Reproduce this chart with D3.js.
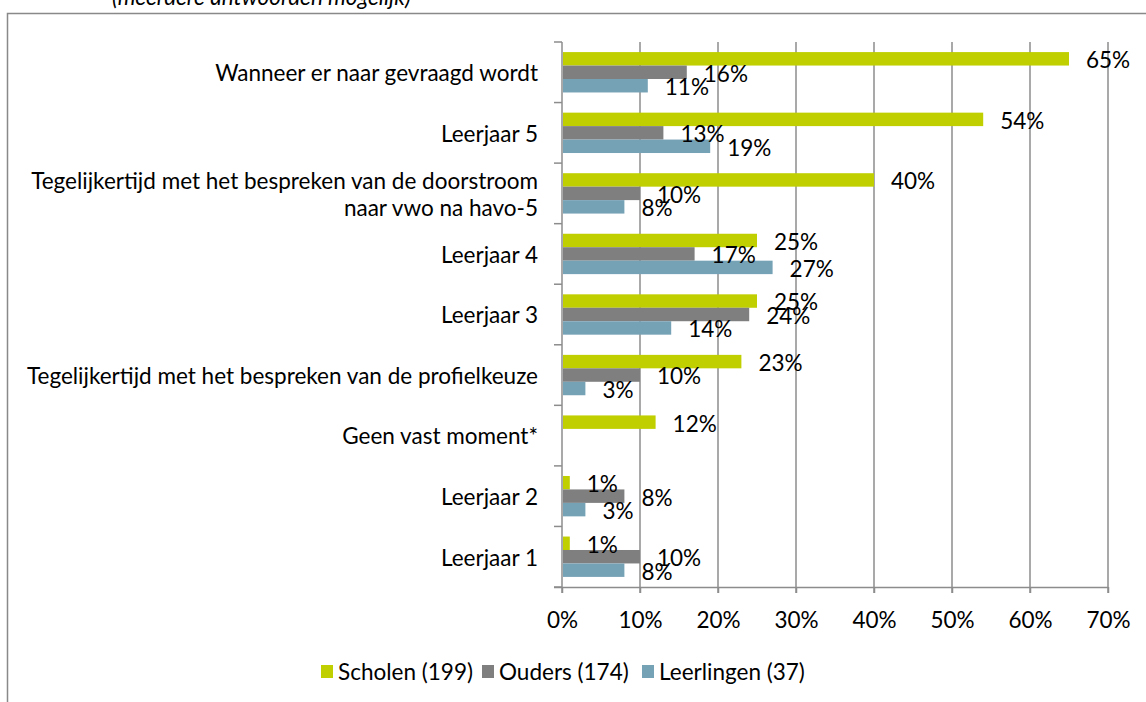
<!DOCTYPE html>
<html><head><meta charset="utf-8">
<script src="https://cdn.jsdelivr.net/npm/d3@7"></script>
<style>html,body{margin:0;padding:0;background:#fff;overflow:hidden}</style>
</head><body>
<svg id="chart" width="1146" height="702"></svg>
<script>
const categories = [
  ["Wanneer er naar gevraagd wordt"],
  ["Leerjaar 5"],
  ["Tegelijkertijd met het bespreken van de doorstroom", "naar vwo na havo-5"],
  ["Leerjaar 4"],
  ["Leerjaar 3"],
  ["Tegelijkertijd met het bespreken van de profielkeuze"],
  ["Geen vast moment*"],
  ["Leerjaar 2"],
  ["Leerjaar 1"]
];
const seriesNames = ["Scholen (199)", "Ouders (174)", "Leerlingen (37)"];
const scholen    = [65, 54, 40, 25, 25, 23, 12, 1, 1];
const ouders     = [16, 13, 10, 17, 24, 10, null, 8, 10];
const leerlingen = [11, 19, 8, 27, 14, 3, null, 3, 8];
const xTicks = [0, 10, 20, 30, 40, 50, 60, 70];
const colors = ["#c0cf00", "#7f7f7f", "#76a2b6"];
const title = "(meerdere antwoorden mogelijk)";

const FONT = "Lato, 'Noto Sans', sans-serif";
const svg = d3.select("#chart");

// fit font size to the reference text width
const probe = svg.append("text").attr("font-family", FONT).attr("font-size", 100).text(categories[0][0]);
const w100 = probe.node().getComputedTextLength();
probe.remove();
const FS = 100 * 323 / w100;

// outer frame
svg.append("rect").attr("x", 7.5).attr("y", 13.5).attr("width", 1160).attr("height", 720)
  .attr("fill", "none").attr("stroke", "#898989").attr("stroke-width", 1.5);

svg.append("text").attr("x", 112).attr("y", 5).attr("font-family", FONT).attr("font-style", "italic")
  .attr("font-size", FS).attr("fill", "#000").text(title);

const x = d3.scaleLinear().domain([0, 70]).range([562, 1108]);
const y = d3.scaleBand().domain(d3.range(categories.length)).range([42, 587]).paddingInner(1/3).paddingOuter(1/6);
const y1 = d3.scaleBand().domain(d3.range(3)).range([0, y.bandwidth()]);

// gridlines
svg.append("g").selectAll("line").data(xTicks.slice(1)).join("line")
  .attr("x1", d => x(d)).attr("x2", d => x(d)).attr("y1", 42).attr("y2", 593)
  .attr("stroke", "#8c8c8c").attr("stroke-width", 1.5);

// x axis
const xAxis = svg.append("g").attr("transform", "translate(0,587)")
  .call(d3.axisBottom(x).tickValues(xTicks).tickFormat(d => d + "%").tickSize(6).tickSizeOuter(0));
xAxis.select(".domain").attr("stroke", "#8c8c8c").attr("stroke-width", 1.5).attr("d", "M554,0.5H1108");
xAxis.selectAll(".tick line").attr("stroke", "#8c8c8c").attr("stroke-width", 1.5);
xAxis.selectAll(".tick text").attr("font-family", FONT).attr("font-size", FS).attr("fill", "#000").attr("y", 33).attr("dy", "0.35em");

// y axis (ticks on band boundaries)
const bounds = d3.range(categories.length + 1).map(i => 42 + i * (545 / categories.length));
const yAx = svg.append("g");
yAx.append("line").attr("x1", 562).attr("x2", 562).attr("y1", 42).attr("y2", 593).attr("stroke", "#8c8c8c").attr("stroke-width", 1.5);
yAx.selectAll(".yt").data(bounds).join("line").attr("class", "yt")
  .attr("x1", 554).attr("x2", 562).attr("y1", d => d).attr("y2", d => d).attr("stroke", "#8c8c8c").attr("stroke-width", 1.5);

// category labels
const catG = svg.append("g");
categories.forEach((lines, i) => {
  const cy = y(i) + y.bandwidth() / 2;
  const lh = FS * 1.2;
  const t = catG.append("text").attr("text-anchor", "end").attr("font-family", FONT).attr("font-size", FS).attr("fill", "#000");
  lines.forEach((ln, j) => {
    t.append("tspan").attr("x", 538).attr("y", cy + (j - (lines.length - 1) / 2) * lh + 1).attr("dy", "0.35em").text(ln);
  });
});

// bars
const series = [scholen, ouders, leerlingen];
const barsG = svg.append("g");
const labelsG = svg.append("g");
series.forEach((vals, s) => {
  const data = vals.map((v, i) => ({v, i})).filter(d => d.v !== null);
  barsG.selectAll(".b" + s).data(data).join("rect").attr("class", "b" + s)
    .attr("x", x(0) + 1).attr("y", d => y(d.i) + y1(s))
    .attr("width", d => x(d.v) - x(0) - 1).attr("height", y1.bandwidth())
    .attr("fill", colors[s]);
  labelsG.selectAll(".l" + s).data(data).join("text").attr("class", "l" + s)
    .attr("x", d => x(d.v) + 17).attr("y", d => y(d.i) + y1(s) + y1.bandwidth() / 2 + 1.5)
    .attr("dy", "0.35em").attr("font-family", FONT).attr("font-size", FS).attr("fill", "#000")
    .text(d => d.v + "%");
});

// legend
const legX = [321, 482, 642];
seriesNames.forEach((n, s) => {
  svg.append("rect").attr("x", legX[s]).attr("y", 665).attr("width", 12).attr("height", 13).attr("fill", colors[s]);
  svg.append("text").attr("x", legX[s] + 17).attr("y", 672).attr("dy", "0.35em")
    .attr("font-family", FONT).attr("font-size", FS).attr("fill", "#000").text(n);
});
</script>
</body></html>
